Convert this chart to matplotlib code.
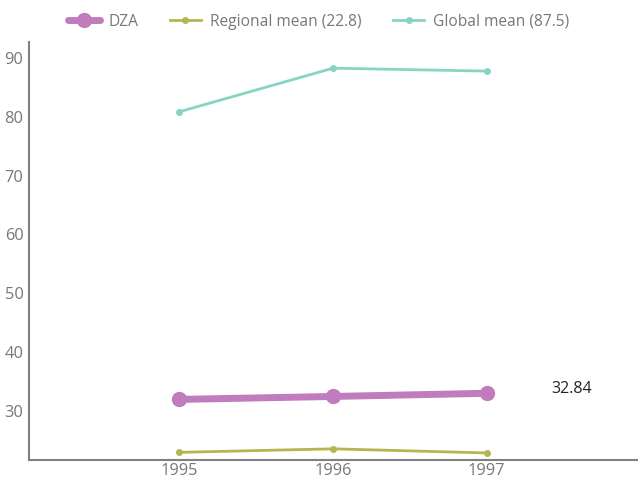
import matplotlib
matplotlib.use("Agg")
import matplotlib.pyplot as plt

plt.rcParams['font.family'] = ['Open Sans', 'DejaVu Sans']

years = [1995, 1996, 1997]
dza = [31.8, 32.3, 32.84]
regional = [22.8, 23.4, 22.7]
global_mean = [80.7, 88.1, 87.6]

fig = plt.figure(figsize=(6.38, 4.81), dpi=100)
ax = fig.add_axes([29/638, 1 - 461/481, (637-29)/638, (461-43)/481])

ax.plot(years, global_mean, color='#88d4c4', lw=2, marker='o', ms=4, label='Global mean (87.5)')
ax.plot(years, regional, color='#b5b551', lw=2, marker='o', ms=4, label='Regional mean (22.8)')
ax.plot(years, dza, color='#c07cbd', lw=5, marker='o', ms=10, label='DZA', solid_capstyle='round')

ax.annotate(f"{dza[-1]:.2f}", xy=(1997.42, dza[-1]), xytext=(0, 4), textcoords='offset points',
            fontsize=11.5, color='#222222', va='center', ha='left')

ax.set_xlim(1994.02, 1997.98)
ax.set_ylim(21.5, 92.55)
ax.set_xticks(years)
ax.set_xticklabels([str(y) for y in years])
ax.set_yticks([30, 40, 50, 60, 70, 80, 90])
ax.tick_params(axis='y', length=0, colors='#777777', labelsize=11.8, pad=4)
ax.tick_params(axis='x', length=0, colors='#777777', labelsize=11.8, pad=1.5)
for s in ['top', 'right']:
    ax.spines[s].set_visible(False)
for s in ['left', 'bottom']:
    ax.spines[s].set_color('#808080')
    ax.spines[s].set_linewidth(1.5)

h, l = ax.get_legend_handles_labels()
order = [2, 1, 0]
leg = fig.legend([h[i] for i in order], [l[i] for i in order], loc='upper center', ncol=3,
                 bbox_to_anchor=(0.5, 1.0), frameon=False, fontsize=11.2, handlelength=2.0,
                 handletextpad=0.6, columnspacing=2.0)
for t in leg.get_texts():
    t.set_color('#777777')

fig.savefig('out.png', dpi=100)
